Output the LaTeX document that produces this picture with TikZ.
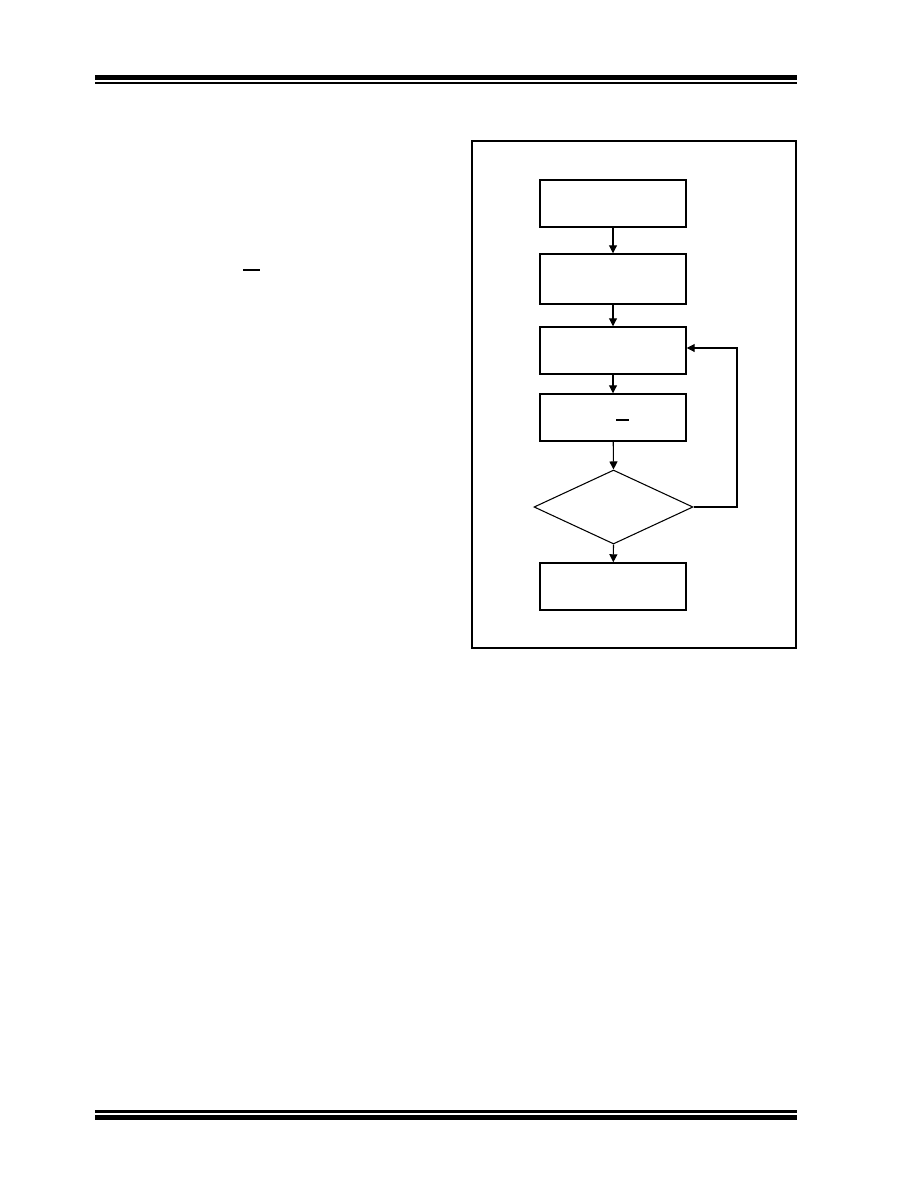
\documentclass[tikz,border=0pt]{standalone}
\usetikzlibrary{arrows.meta,shapes.geometric}
\begin{document}
\begin{tikzpicture}[x=0.75pt,y=-0.75pt,
  stepbox/.style={draw,line width=1.1pt,minimum width=146*0.75pt,minimum height=47*0.75pt,inner sep=0pt},
  flow/.style={line width=0.8pt,-{Triangle[width=6pt,length=6pt]}},
  rule/.style={line width=#1}]
\useasboundingbox (0,0) rectangle (918,1188);
% page rules
\fill (95,75) rectangle (797,80);
\fill (95,82.5) rectangle (797,84.5);
\fill (95,1110) rectangle (797,1112.5);
\fill (95,1115) rectangle (797,1120);
% frame
\node[draw,line width=1.1pt,minimum width=324*0.75pt,minimum height=507*0.75pt,inner sep=0pt] (frame) at (634,394.5) {};
% boxes
\node[stepbox] (b1) at (613,203.5) {};
\node[stepbox,minimum height=50*0.75pt] (b2) at (613,279) {};
\node[stepbox] (b3) at (613,350.5) {};
\node[stepbox] (b4) at (613,417.5) {};
\node[draw,line width=0.8pt,diamond,aspect=2.15,minimum width=159*0.75pt,minimum height=74*0.75pt,inner sep=0pt] (d) at (613.5,507) {};
\node[stepbox] (b6) at (613,586.5) {};
% overline marks
\draw[line width=0.9pt] (243,270) -- (260,270);
\draw[line width=0.9pt] (616,420) -- (629,420);
% connectors
\draw[flow] (b1) -- (b2);
\draw[flow] (b2) -- (b3);
\draw[flow] (b3) -- (b4);
\draw[flow] (b4) -- (d.north);
\draw[flow] (d.south) -- (b6);
\coordinate (c1) at (737,507);
\coordinate (c2) at (737,348);
\draw[flow] (d.east) -- (c1) -- (c2) -- ([yshift=-0.0pt]c2 -| b3.east);
\end{tikzpicture}
\end{document}
